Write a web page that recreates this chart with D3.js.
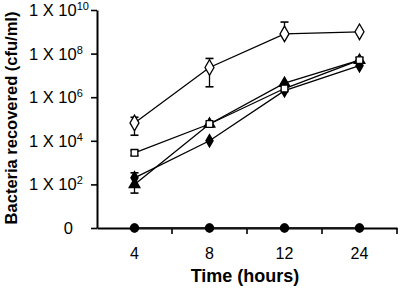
<!DOCTYPE html>
<html>
<head>
<meta charset="utf-8">
<script src="https://cdn.jsdelivr.net/npm/d3@7"></script>
<style>
  body { margin: 0; background: #fff; }
  text { font-family: Arial, "Liberation Sans", sans-serif; }
</style>
</head>
<body>
<main></main>
<script>
const sizeOfSVG = { width: 400, height: 289 };

// data
const hours = ['4', '8', '12', '24'];
const yTickValues = [1, 1e2, 1e4, 1e6, 1e8, 1e10];
const yTickExp = ['', '2', '4', '6', '8', '10'];

const openDiamond = [6.6e4, 2.3e7, 8e8, 1e9];
const openDiamondLow = [1.8e4, 3e6, null, null];
const openDiamondHigh = [1.2e5, 6e7, 2.8e9, null];

const openSquare = [2.8e3, 5.9e4, 2.5e6, 5e7];
const openSquareLow = [2.1e3, null, null, 3.8e7];
const openSquareHigh = [3.6e3, null, null, 6.5e7];

const filledTriangle = [1e2, 5.9e4, 4.4e6, 5e7];
const filledTriangleLow = [40, null, null, null];
const filledTriangleHigh = [null, null, null, null];

const filledDiamond = [2e2, 1e4, 2e6, 2.8e7];
const filledDiamondLow = [null, null, null, null];
const filledDiamondHigh = [3.4e2, null, null, null];

const zeroOpen = [0, 0, 0, 0];
const zeroFilled = [0, 0, 0, 0];

const canvas = () => {
    return d3.select('main')
        .append('svg')
        .attr('width', sizeOfSVG.width)
        .attr('height', sizeOfSVG.height)
};

const svg = canvas();

const xScale = d3.scaleBand()
    .domain(hours)
    .range([97, 397]);
const xPos = (h) => xScale(h) + xScale.bandwidth() / 2;

const yScale = d3.scaleLog()
    .domain([1, 1e10])
    .range([228, 10]);
const yPos = (v) => yScale(Math.max(v, 1)); // 0 sits on the "0" line

// axes
const xAxis = svg.append('g')
    .attr('transform', `translate(0, ${yScale(1)})`)
    .call(d3.axisBottom(xScale).tickValues([]).tickSizeOuter(0));
xAxis.select('.domain').attr('stroke-width', 2);
// ticks at band edges
svg.append('g').selectAll('line')
    .data(hours)
    .enter()
    .append('line')
    .attr('x1', d => xScale(d) + xScale.bandwidth())
    .attr('x2', d => xScale(d) + xScale.bandwidth())
    .attr('y1', yScale(1))
    .attr('y2', yScale(1) + 6)
    .attr('stroke', '#000')
    .attr('stroke-width', 1.6);

svg.append('g').selectAll('text')
    .data(hours)
    .enter()
    .append('text')
    .attr('x', d => xPos(d))
    .attr('y', 259)
    .attr('text-anchor', 'middle')
    .attr('font-size', 16)
    .text(d => d);

const yAxis = svg.append('g')
    .attr('transform', 'translate(97, 0)')
    .call(d3.axisLeft(yScale).tickValues(yTickValues).tickFormat('').tickSize(6).tickSizeOuter(0));
yAxis.select('.domain').attr('stroke-width', 2);
yAxis.selectAll('.tick line').attr('stroke-width', 1.6);

const yLabels = svg.append('g').selectAll('text')
    .data(yTickValues)
    .enter()
    .append('text')
    .attr('x', (d, i) => i === 0 ? 73 : 29)
    .attr('y', d => yScale(d) + 6)
    .attr('text-anchor', (d, i) => i === 0 ? 'end' : 'start')
    .attr('font-size', 16.5);
yLabels.each(function (d, i) {
    const t = d3.select(this);
    if (i === 0) { t.text('0'); return; }
    t.append('tspan').text('1 X 10');
    t.append('tspan').attr('font-size', 11).attr('dy', -6).text(yTickExp[i]);
});

svg.append('text')
    .attr('transform', 'translate(17, 118) rotate(-90)')
    .attr('text-anchor', 'middle')
    .attr('font-size', 16.5)
    .attr('font-weight', 'bold')
    .text('Bacteria recovered (cfu/ml)');

svg.append('text')
    .attr('x', 245)
    .attr('y', 282)
    .attr('text-anchor', 'middle')
    .attr('font-size', 18)
    .attr('font-weight', 'bold')
    .text('Time (hours)');

// series
const line = d3.line()
    .x((d, i) => xPos(hours[i]))
    .y(d => yPos(d));

const drawSeries = (values, low, high, marker, filled, strokeColor) => {
    const g = svg.append('g');
    g.append('path')
        .datum(values)
        .attr('d', line)
        .attr('fill', 'none')
        .attr('stroke', strokeColor || '#000')
        .attr('stroke-width', 1.3);

    // error bars
    values.forEach((v, i) => {
        const x = xPos(hours[i]);
        [low[i], high[i]].forEach(e => {
            if (e == null) return;
            g.append('line')
                .attr('x1', x).attr('x2', x)
                .attr('y1', yPos(v)).attr('y2', yPos(e))
                .attr('stroke', '#000').attr('stroke-width', 1.3);
            g.append('line')
                .attr('x1', x - 4).attr('x2', x + 4)
                .attr('y1', yPos(e)).attr('y2', yPos(e))
                .attr('stroke', '#000').attr('stroke-width', 1.6);
        });
    });

    g.selectAll('path.mark')
        .data(values)
        .enter()
        .append('path')
        .attr('class', 'mark')
        .attr('d', d3.symbol().type(marker.type).size(marker.size))
        .attr('transform', (d, i) => `translate(${xPos(hours[i])}, ${yPos(d)})`)
        .attr('fill', filled ? '#000' : '#fff')
        .attr('stroke', '#000')
        .attr('stroke-width', 1.3);
};

const noErr = [null, null, null, null];
drawSeries(zeroOpen, noErr, noErr, { type: d3.symbolCircle, size: 50 }, false, '#777');
drawSeries(zeroFilled, noErr, noErr, { type: d3.symbolCircle, size: 45 }, true);
drawSeries(filledDiamond, filledDiamondLow, filledDiamondHigh, { type: d3.symbolDiamond, size: 45 }, true);
drawSeries(filledTriangle, filledTriangleLow, filledTriangleHigh, { type: d3.symbolTriangle, size: 50 }, true);
drawSeries(openSquare, openSquareLow, openSquareHigh, { type: d3.symbolSquare, size: 45 }, false);
drawSeries(openDiamond, openDiamondLow, openDiamondHigh, { type: d3.symbolDiamond, size: 70 }, false);
</script>
</body>
</html>
